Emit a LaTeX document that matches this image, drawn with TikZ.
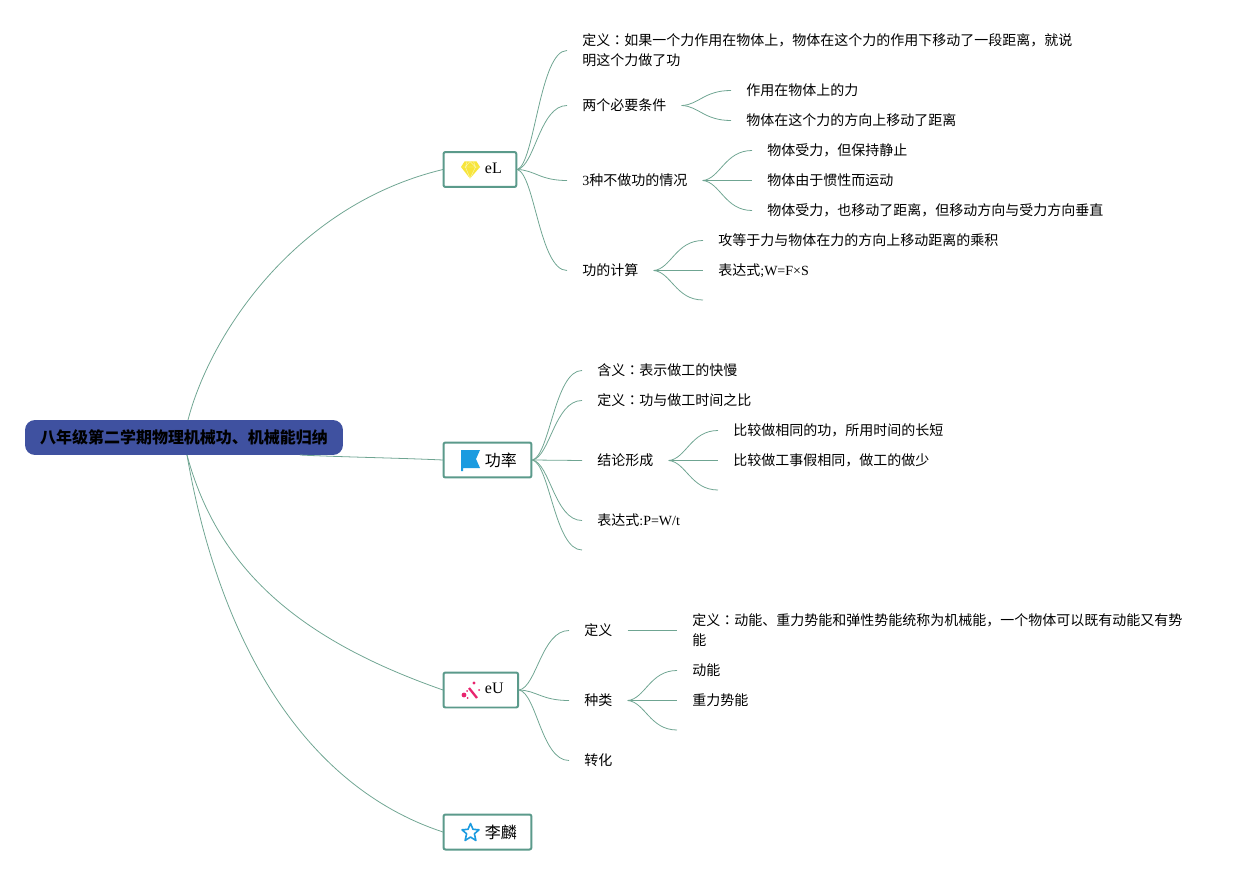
\documentclass[tikz,border=0pt]{standalone}
\usepackage{fontspec}
\setmainfont{Liberation Serif}
\newfontfamily\cjk{Noto Sans CJK SC}
\newfontfamily\cjktc{Noto Sans CJK TC}
\newcommand{\lat}[1]{{\rmfamily #1}}
\newcommand{\zhcolon}{{\cjktc ：}}
\usepackage{xcolor}
\usetikzlibrary{calc}
\definecolor{branchgreen}{HTML}{6FA592}
\definecolor{boxgreen}{HTML}{5B9A8B}
\definecolor{rootblue}{HTML}{3F51A0}
\definecolor{flagblue}{HTML}{1B9BE0}
\definecolor{wandpink}{HTML}{E8246E}
\definecolor{gemyellow}{HTML}{F7E53A}
\tikzset{
  conn/.style={draw=branchgreen, line width=0.45pt},
  sweep/.style={to path={let \p1=(\tikztostart),\p2=(\tikztotarget) in
    .. controls (\x1+.35*\x2-.35*\x1,\y1+.05*\y2-.05*\y1) and (\x1+.45*\x2-.45*\x1,\y2) .. (\tikztotarget)}},
  leaf/.style={anchor=west, yshift=0.01cm, inner xsep=0.3cm, inner ysep=0pt, align=left,
    font=\cjk\fontsize{7.97pt}{11.38pt}\selectfont},
  topicbox/.style={draw=boxgreen, fill=white, line width=0.04cm, rounded corners=0.04cm,
    anchor=west, inner xsep=0.29cm, inner ysep=0pt, minimum height=0.7cm,
    font=\cjk\fontsize{9.1pt}{11.4pt}\selectfont},
  rootbox/.style={fill=rootblue, rounded corners=0.2cm, minimum width=6.36cm, minimum height=0.7cm,
    inner sep=0pt, font=\cjk\bfseries\fontsize{9.1pt}{11.4pt}\selectfont}
}
\begin{document}
\begin{tikzpicture}[x=0.02cm,y=-0.02cm]
\useasboundingbox (0,0) rectangle (1252,875);

% curves from the root go underneath the boxes
\node[rootbox] (root) at (184,437.5) {\raisebox{-0.02cm}{八年级第二学期物理机械功、机械能归纳}};
\coordinate (rootup) at (188,420);
\coordinate (rootdown) at (187,455);
\coordinate (rootright) at (300,455);

\draw[conn] (rootup) .. controls (210,335) and (295,205) .. (443,169.5);
\draw[conn] (rootright) .. controls (340,457) and (400,458) .. (443,460);
\draw[conn] (rootdown) .. controls (218,570) and (300,640) .. (443,690);
\draw[conn] (rootdown) .. controls (218,635) and (300,785) .. (443,832);

\node[topicbox] (el) at (442.5,169.5) {\hspace*{0.54cm}\raisebox{0.05cm}{\lat{eL}}};
\node[topicbox] (gonglv) at (442.5,460) {\hspace*{0.54cm}功率};
\node[topicbox] (eu) at (442.5,690) {\hspace*{0.54cm}\raisebox{0.05cm}{\lat{eU}}};
\node[topicbox] (lilin) at (442.5,832) {\hspace*{0.54cm}李麟};

% first branch
\node[leaf] (wdef) at (567,51) {定义\zhcolon 如果一个力作用在物体上，物体在这个力的作用下移动了一段距离，就说\\明这个力做了功};
\node[leaf] (wcond) at (567,106) {两个必要条件};
\node[leaf] (wcond1) at (731,91) {作用在物体上的力};
\node[leaf] (wcond2) at (731,121) {物体在这个力的方向上移动了距离};
\node[leaf] (wnone) at (567,181) {\lat{3}种不做功的情况};
\node[leaf] (wnone1) at (752,151) {物体受力，但保持静止};
\node[leaf] (wnone2) at (752,181) {物体由于惯性而运动};
\node[leaf] (wnone3) at (752,211) {物体受力，也移动了距离，但移动方向与受力方向垂直};
\node[leaf] (wcalc) at (567,271) {功的计算};
\node[leaf] (wcalc1) at (703,241) {攻等于力与物体在力的方向上移动距离的乘积};
\node[leaf] (wcalc2) at (703,271) {表达式\lat{;W=F×S}};
\coordinate (wcalc3) at (703,300);

\draw[conn] (el.east) to[sweep] (wdef.west);
\draw[conn] (el.east) to[sweep] (wcond.west);
\draw[conn] (el.east) to[sweep] (wnone.west);
\draw[conn] (el.east) to[sweep] (wcalc.west);
\draw[conn] (wcond.east) to[sweep] (wcond1.west);
\draw[conn] (wcond.east) to[sweep] (wcond2.west);
\draw[conn] (wnone.east) to[sweep] (wnone1.west);
\draw[conn] (wnone.east) -- (wnone2.west);
\draw[conn] (wnone.east) to[sweep] (wnone3.west);
\draw[conn] (wcalc.east) to[sweep] (wcalc1.west);
\draw[conn] (wcalc.east) -- (wcalc2.west);
\draw[conn] (wcalc.east) to[sweep] (wcalc3);

% second branch
\node[leaf] (pmean) at (582,371) {含义\zhcolon 表示做工的快慢};
\node[leaf] (pdef) at (582,401) {定义\zhcolon 功与做工时间之比};
\node[leaf] (pres) at (582,461) {结论形成};
\node[leaf] (pres1) at (718,431) {比较做相同的功，所用时间的长短};
\node[leaf] (pres2) at (718,461) {比较做工事假相同，做工的做少};
\coordinate (pres3) at (718,490);
\node[leaf] (pform) at (582,521) {表达式\lat{:P=W/t}};
\coordinate (pend) at (582,550);

\draw[conn] (gonglv.east) to[sweep] (pmean.west);
\draw[conn] (gonglv.east) to[sweep] (pdef.west);
\draw[conn] (gonglv.east) -- (pres.west);
\draw[conn] (gonglv.east) to[sweep] (pform.west);
\draw[conn] (gonglv.east) to[sweep] (pend);
\draw[conn] (pres.east) to[sweep] (pres1.west);
\draw[conn] (pres.east) -- (pres2.west);
\draw[conn] (pres.east) to[sweep] (pres3);

% third branch
\node[leaf] (edef) at (569,631) {定义};
\node[leaf] (edef1) at (677,631) {定义\zhcolon 动能、重力势能和弹性势能统称为机械能，一个物体可以既有动能又有势\\能};
\node[leaf] (ekind) at (569,701) {种类};
\node[leaf] (ekind1) at (677,671) {动能};
\node[leaf] (ekind2) at (677,701) {重力势能};
\coordinate (ekind3) at (677,730);
\node[leaf] (echange) at (569,761) {转化};

\draw[conn] (eu.east) to[sweep] (edef.west);
\draw[conn] (eu.east) to[sweep] (ekind.west);
\draw[conn] (eu.east) to[sweep] (echange.west);
\draw[conn] (edef.east) -- (edef1.west);
\draw[conn] (ekind.east) to[sweep] (ekind1.west);
\draw[conn] (ekind.east) -- (ekind2.west);
\draw[conn] (ekind.east) to[sweep] (ekind3);

% icons
\fill[gemyellow] (464.5,161.5) -- (476.5,161.5) -- (480,167) -- (470,178.5) -- (461,167) -- cycle;
\draw[white!60!gemyellow,line width=0.25pt] (461,167) -- (480,167) (465.5,167) -- (470,178.5) -- (475.5,167) (467,161.5) -- (465.5,167) -- (470,161.5) -- (475.5,167) -- (473.5,161.5);
\fill[flagblue] (461,450) -- (480,450) -- (476,459) -- (480,468) -- (463,468) -- (463,471) -- (461,471) -- cycle;
\draw[wandpink,line width=1.3pt] (469,688) -- (477,698);
\fill[wandpink] (464,695) circle (2.4);
\fill[wandpink] (474,683) circle (1.6);
\fill[wandpink] (479,690) circle (1);
\fill[wandpink] (467,691) circle (1);
\fill[wandpink] (467.5,698) circle (1);
\draw[flagblue,line width=0.9pt,line join=round] (470.5,823.5) -- (473,829.3) -- (479,829.8) -- (474.4,833.8) -- (475.9,840.5) -- (470.5,837) -- (465.1,840.5) -- (466.6,833.8) -- (462,829.8) -- (468,829.3) -- cycle;

\end{tikzpicture}
\end{document}
